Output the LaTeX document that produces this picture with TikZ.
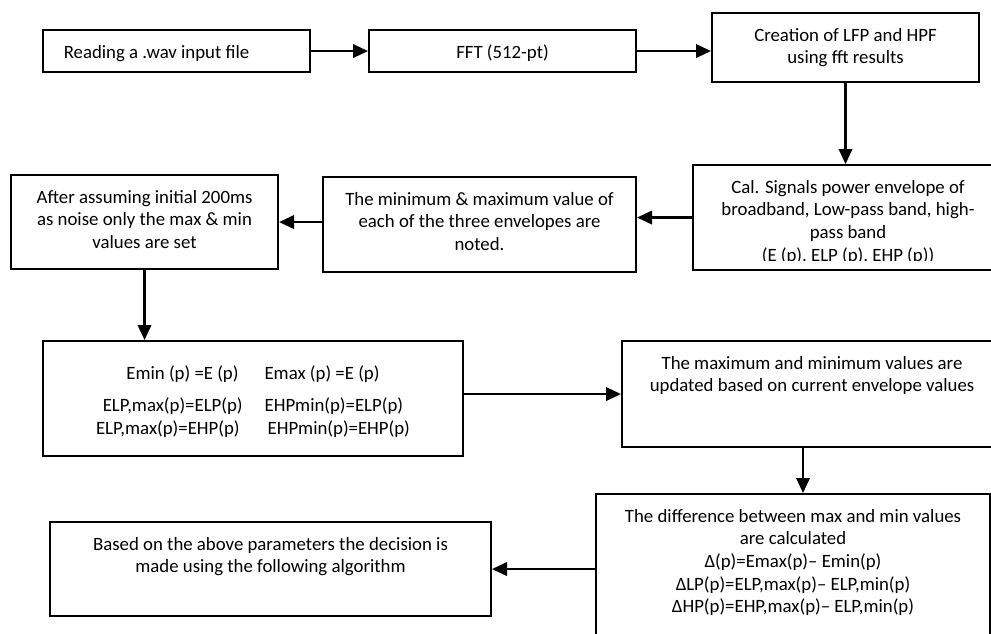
\documentclass[tikz,border=0pt]{standalone}
\usepackage{fontspec}
\setmainfont{Carlito}
\usetikzlibrary{arrows.meta}

\begin{document}
\begin{tikzpicture}[x=0.02cm, y=-0.02cm]
  \useasboundingbox (0,0) rectangle (991,633);
  \clip (0,0) rectangle (991,633);  % Rahmen rechts und unten abgeschnitten.
  \tikzstyle{box}=[draw, line width=1.2pt, inner sep=0pt, anchor=north west]
  \tikzstyle{txt}=[draw=none, inner sep=0pt, minimum width=0pt, minimum height=0pt, anchor=base, font=\fontsize{10.7}{12.9}\selectfont]
  \tikzstyle{arrow}=[line width=1.2pt, -{Triangle[length=3mm, width=2.7mm]}]
  \tikzset{boxtext/.style 2 args={path picture={
    \clip ([yshift=0.2cm]path picture bounding box.south west) rectangle (path picture bounding box.north east);
    \node[txt] at ([shift={(#1)}]path picture bounding box.north) {\begin{tabular}[t]{@{}c@{}}#2\end{tabular}};}}}

  \node[box, minimum width=5.34cm, minimum height=0.84cm, boxtext={-20,28}{Reading a .wav input file}] (1) at (42,29) {};
  \node[box, minimum width=5.34cm, minimum height=0.84cm, boxtext={0,28}{FFT (512-pt)}] (2) at (368,29) {};
  \node[box, minimum width=5.34cm, minimum height=1.38cm, boxtext={0,28}{Creation of LFP and HPF\\using fft results}] (3) at (711,12) {};
  \node[box, minimum width=6.2cm, minimum height=2.1cm, boxtext={0,28}{Cal. Signals power envelope of\\broadband, Low-pass band, high-\\pass band\\(E (p), ELP (p), EHP (p))}] (4) at (692,164) {};
  \node[box, minimum width=6.26cm, minimum height=1.9cm, boxtext={0,28}{The minimum \& maximum value of\\each of the three envelopes are\\noted.}] (5) at (322,176) {};
  \node[box, minimum width=5.34cm, minimum height=1.88cm, boxtext={0,28}{After assuming initial 200ms\\as noise only the max \& min\\values are set}] (6) at (10,174) {};
  \node[box, minimum width=8.4cm, minimum height=2.3cm, boxtext={0,38}{Emin (p) =E (p)\hspace{0.52cm}Emax (p) =E (p)\\[0.2cm]ELP,max(p)=ELP(p)\hspace{0.44cm}EHPmin(p)=ELP(p)\\ELP,max(p)=EHP(p)\hspace{0.56cm}EHPmin(p)=EHP(p)}] (7) at (42,340) {};
  \node[box, minimum width=7.6cm, minimum height=2.12cm, boxtext={0,28}{The maximum and minimum values are\\updated based on current envelope values}] (8) at (621,340) {};
  \node[box, minimum width=7.88cm, minimum height=3.4cm, boxtext={0,28}{The difference between max and min values\\are calculated\\Δ(p)=Emax(p)– Emin(p)\\ΔLP(p)=ELP,max(p)– ELP,min(p)\\ΔHP(p)=EHP,max(p)– ELP,min(p)}] (9) at (595,493) {};
  \node[box, minimum width=8.82cm, minimum height=1.88cm, boxtext={0,28}{Based on the above parameters the decision is\\made using the following algorithm}] (10) at (49,521) {};

  \path (1) edge[arrow] (2);
  \path (2.east) edge[arrow] (2.east -| 3.west);
  \path (3.south) edge[arrow] (3.south |- 4.north);
  \path (4.west) edge[arrow] (4.west -| 5.east);
  \path (6.east -| 5.west) edge[arrow] (6.east);
  \path (6.south) edge[arrow] (6.south |- 7.north);
  \path (7.east |- 8.west) edge[arrow] (8.west);
  \path ([xshift=-0.18cm]8.south) edge[arrow] ([xshift=-0.18cm]8.south |- 9.north);
  \path (10.east -| 9.west) edge[arrow] (10.east);
\end{tikzpicture}
\end{document}
